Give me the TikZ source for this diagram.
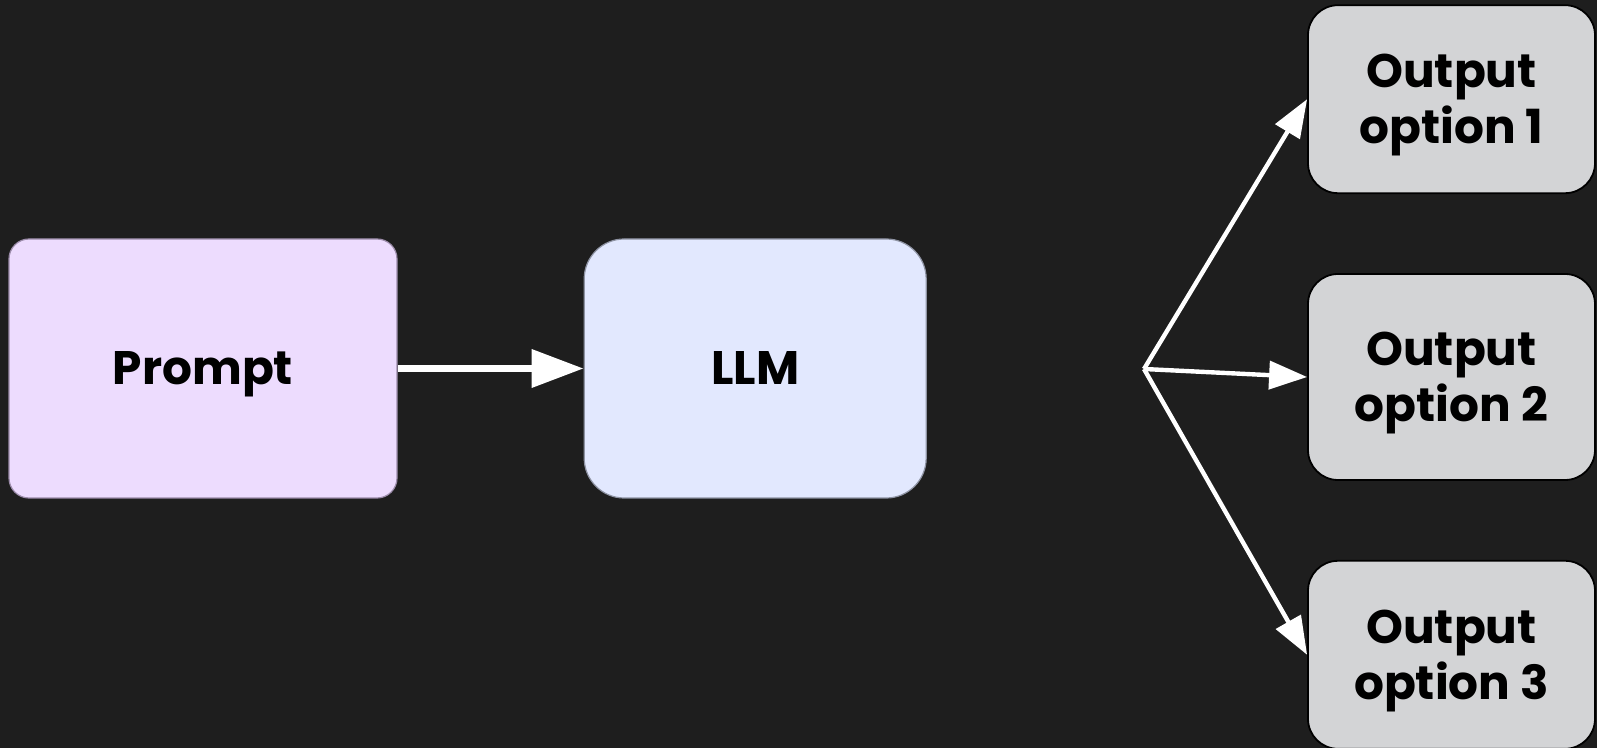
\documentclass[tikz,border=0pt]{standalone}
\usepackage{fontspec}
\setmainfont{Poppins}
\usepackage{xcolor}
\usetikzlibrary{arrows.meta,positioning}

\definecolor{bgdark}{HTML}{1E1E1E}
\definecolor{promptfill}{HTML}{EDDCFE}
\definecolor{promptline}{HTML}{9C8CAA}
\definecolor{llmfill}{HTML}{E2E8FE}
\definecolor{llmline}{HTML}{8E93A3}
\definecolor{outfill}{HTML}{D3D4D6}

\begin{document}
\begin{tikzpicture}[
    node distance=93pt,
    block/.style={rectangle, draw, line width=0.6pt, text centered, align=center, text depth=0pt, font=\fontsize{23.5}{28}\selectfont\bfseries, text=black},
    outbox/.style={block, draw=black, line width=0.9pt, fill=outfill, rounded corners=15pt, minimum width=143.5pt, minimum height=94pt},
    arrow/.style={-{Triangle[length=26pt,width=18.5pt]}, draw=white, line width=3.5pt},
    fanarrow/.style={-{Triangle[length=19pt,width=14pt]}, draw=white, line width=2.2pt}
]
\fill[bgdark] (0,0) rectangle (798.5pt,-374pt);
\useasboundingbox (0,0) rectangle (798.5pt,-374pt);

\node[block, draw=promptline, fill=promptfill, rounded corners=10pt, minimum width=194pt, minimum height=129.5pt] (prompt) at (101.5pt,-184.25pt) {Prompt};
\node[block, draw=llmline, fill=llmfill, rounded corners=20pt, minimum width=171pt, minimum height=129.5pt, right=of prompt] (llm) {LLM};

\node[outbox, minimum height=103pt] (out2) at (725.75pt,-188.5pt) {Output\\option 2};
\node[outbox, above=39.5pt of out2, text depth=-11pt] (out1) {Output\\option 1};
\node[outbox, below=39.5pt of out2] (out3) {Output\\option 3};

\coordinate (fan) at (572pt,-184.5pt);

\draw[arrow] (prompt) -- (llm);
\draw[fanarrow] (fan) -- (out1.west);
\draw[fanarrow] (fan) -- (out2.west);
\draw[fanarrow] (fan) -- (out3.west);
\end{tikzpicture}
\end{document}
